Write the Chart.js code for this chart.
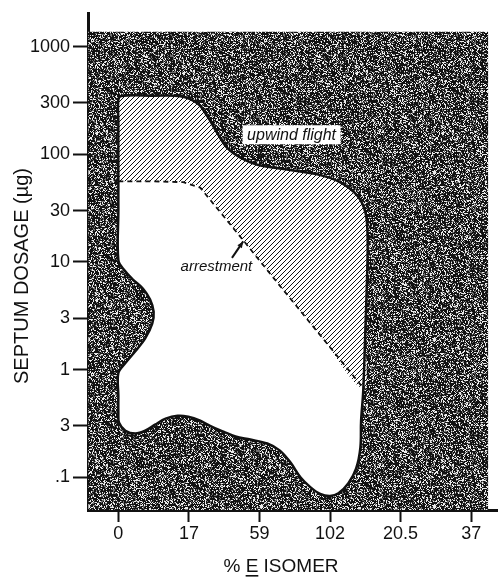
<!DOCTYPE html>
<html>
<head>
<meta charset="utf-8">
<script src="https://cdn.jsdelivr.net/npm/chart.js@4.4.0/dist/chart.umd.min.js"></script>
<style>
  body { margin: 0; background: #fff; }
</style>
</head>
<body>
<canvas id="chart" width="498" height="578"></canvas>
<script>
// x axis: the isomer ratios sit at even steps (index 0..5)
var xTickLabels = ['0', '17', '59', '102', '20.5', '37'];
var yTickValues = [1000, 300, 100, 30, 10, 3, 1, 0.3, 0.1];
var yTickLabels = ['1000', '300', '100', '30', '10', '3', '1', '3', '.1'];

// outer edge of the responding area (white + hatched), going round from the left edge
var regionX = [0, 0, 0, 0.04, 0.5, 0.88, 1.12, 1.26, 1.40, 1.54, 1.73, 1.97, 2.34, 2.82, 3.14, 3.39, 3.50, 3.53, 3.53, 3.50,
  3.47, 3.44, 3.43, 3.37, 3.26, 3.12, 3.00, 2.86, 2.72, 2.58, 2.44, 2.29, 2.11, 1.87, 1.66, 1.49, 1.30, 1.16, 0.99, 0.84,
  0.67, 0.52, 0.38, 0.24, 0.10, 0.01, 0, 0, 0, 0.1, 0.24, 0.38, 0.48, 0.50, 0.45, 0.35, 0.21, 0.08, 0, 0, 0];
var regionY = [100, 200, 320, 348, 350, 346, 298, 226, 158, 115, 93, 80, 73, 65, 55, 41, 29, 19, 10, 2.26,
  0.63, 0.335, 0.189, 0.121, 0.088, 0.071, 0.067, 0.07, 0.081, 0.1, 0.137, 0.177, 0.206, 0.224, 0.239, 0.265, 0.30, 0.335, 0.365, 0.373,
  0.35, 0.308, 0.271, 0.255, 0.271, 0.321, 0.40, 0.57, 0.93, 1.15, 1.48, 1.95, 2.68, 3.46, 4.47, 5.64, 6.82, 8.44, 10.4, 30, 100];

// upwind flight (hatched) part
var flightX = [0, 0, 0, 0.04, 0.5, 0.88, 1.12, 1.26, 1.40, 1.54, 1.73, 1.97, 2.34, 2.82, 3.14, 3.39, 3.50, 3.53, 3.53, 3.50,
  3.47, 2.86, 2.29, 1.73, 1.16, 0.92, 0.5, 0];
var flightY = [56, 150, 320, 348, 350, 346, 298, 226, 158, 115, 93, 80, 73, 65, 55, 41, 29, 19, 10, 2.26,
  0.675, 2.09, 6.0, 17.1, 49, 55, 56, 56];

// arrestment threshold (dashed)
var arrestX = [0, 0.5, 0.92, 1.16, 1.73, 2.29, 2.86, 3.47];
var arrestY = [56, 56, 55, 49, 17.1, 6.0, 2.09, 0.675];

// stippled field (no response)
var fieldX = [-0.425, -0.425, 5.24, 5.24];
var fieldY = [0.0497, 1375, 1375, 0.0497];

function pts(xs, ys) {
  return xs.map(function (x, i) { return { x: x, y: ys[i] }; });
}

// stipple texture
function makeStipple() {
  var c = document.createElement('canvas');
  c.width = 173; c.height = 167;
  var g = c.getContext('2d');
  var img = g.createImageData(173, 167);
  var seed = 987;
  for (var i = 0; i < 173 * 167; i++) {
    seed = (seed * 1103515245 + 12345) & 0x7fffffff;
    var r = seed / 0x7fffffff;
    var v = r < 0.6 ? 18 : (r < 0.78 ? 110 : 235);
    img.data[i * 4] = v; img.data[i * 4 + 1] = v; img.data[i * 4 + 2] = v; img.data[i * 4 + 3] = 255;
  }
  g.putImageData(img, 0, 0);
  return g.createPattern(c, 'repeat');
}

// diagonal hatching  ////
function makeHatch() {
  var c = document.createElement('canvas');
  c.width = 5; c.height = 5;
  var g = c.getContext('2d');
  g.fillStyle = '#fff';
  g.fillRect(0, 0, 5, 5);
  g.fillStyle = '#111';
  for (var i = 0; i < 5; i++) {
    for (var j = 0; j < 5; j++) {
      if ((i + j) % 5 === 0) g.fillRect(i, j, 1, 1);
    }
  }
  return g.createPattern(c, 'repeat');
}

var FONT = '"Liberation Sans", Arial, sans-serif';

var annotate = {
  id: 'annotate',
  afterDraw: function (chart) {
    var ctx = chart.ctx;
    var xs = chart.scales.x, ys = chart.scales.y;
    function px(v) { return xs.getPixelForValue(v); }
    function py(v) { return ys.getPixelForValue(v); }
    function arrow(x1, y1, x2, y2) {
      ctx.beginPath();
      ctx.moveTo(x1, y1);
      ctx.lineTo(x2, y2);
      ctx.lineWidth = 2;
      ctx.strokeStyle = '#111';
      ctx.stroke();
      var a = Math.atan2(y2 - y1, x2 - x1);
      ctx.beginPath();
      ctx.moveTo(x2, y2);
      ctx.lineTo(x2 - 7 * Math.cos(a - 0.4), y2 - 7 * Math.sin(a - 0.4));
      ctx.lineTo(x2 - 7 * Math.cos(a + 0.4), y2 - 7 * Math.sin(a + 0.4));
      ctx.closePath();
      ctx.fillStyle = '#111';
      ctx.fill();
    }
    ctx.save();
    ctx.font = 'italic 16px ' + FONT;
    ctx.textAlign = 'center';
    ctx.textBaseline = 'middle';

    // upwind flight label on a white box
    var cx = px(2.455), cy = py(150);
    ctx.fillStyle = '#fff';
    ctx.fillRect(cx - 49, cy - 10, 98, 19);
    ctx.fillStyle = '#111';
    ctx.fillText('upwind flight', cx, cy);
    arrow(px(2.05), py(115), px(1.965), py(86));

    // arrestment label
    ctx.font = 'italic 15px ' + FONT;
    ctx.fillStyle = '#111';
    ctx.fillText('arrestment', px(1.39), py(9.0));
    arrow(px(1.61), py(10.9), px(1.77), py(15.5));

    // axis titles
    ctx.font = '20px ' + FONT;
    ctx.save();
    ctx.translate(22, 276);
    ctx.rotate(-Math.PI / 2);
    ctx.fillText('SEPTUM DOSAGE (\u00b5g)', 0, 0);
    ctx.restore();

    ctx.font = '19px ' + FONT;
    var a = '% ', b = 'E', c = ' ISOMER';
    var wa = ctx.measureText(a).width, wb = ctx.measureText(b).width, wc = ctx.measureText(c).width;
    var x0 = 281 - (wa + wb + wc) / 2, base = 572;
    ctx.textAlign = 'left';
    ctx.textBaseline = 'alphabetic';
    ctx.fillText(a, x0, base);
    ctx.fillText(b, x0 + wa, base);
    ctx.fillText(c, x0 + wa + wb, base);
    ctx.fillRect(x0 + wa, base + 3, wb, 1.6);
    ctx.restore();
  }
};

var clear = 'rgba(0,0,0,0)';

new Chart(document.getElementById('chart').getContext('2d'), {
  type: 'scatter',
  data: {
    datasets: [
      { data: pts(arrestX, arrestY), showLine: true, fill: false, borderColor: '#111', borderWidth: 1.8,
        borderDash: [5, 4], tension: 0, pointRadius: 0 },
      { data: pts(regionX, regionY), showLine: true, fill: false, borderColor: '#111', borderWidth: 2.5,
        tension: 0.35, pointRadius: 0 },
      { data: pts(flightX, flightY), showLine: true, fill: 'shape', backgroundColor: makeHatch(),
        borderColor: clear, borderWidth: 0.1, tension: 0.35, pointRadius: 0 },
      { data: pts(regionX, regionY), showLine: true, fill: 'shape', backgroundColor: '#fff',
        borderColor: clear, borderWidth: 0.1, tension: 0.35, pointRadius: 0 },
      { data: pts(fieldX, fieldY), showLine: true, fill: 'shape', backgroundColor: makeStipple(),
        borderColor: clear, borderWidth: 0.1, tension: 0, pointRadius: 0 }
    ]
  },
  options: {
    responsive: false,
    devicePixelRatio: 1,
    animation: false,
    layout: { padding: { top: 10, right: 0, left: 0, bottom: 0 } },
    plugins: { legend: { display: false }, tooltip: { enabled: false } },
    scales: {
      x: {
        type: 'linear',
        min: -0.43,
        max: 5.38,
        bounds: 'data',
        afterFit: function (s) { s.height = 68; },
        afterBuildTicks: function (s) { s.ticks = xTickLabels.map(function (l, i) { return { value: i }; }); },
        grid: { drawOnChartArea: false, drawTicks: true, tickLength: 12, tickWidth: 2, tickColor: '#111' },
        border: { display: true, width: 3, color: '#111' },
        ticks: {
          autoSkip: false, maxRotation: 0, padding: 1, color: '#111',
          font: { family: FONT, size: 18 },
          callback: function (v) { return xTickLabels[v]; }
        }
      },
      y: {
        type: 'logarithmic',
        min: 0.0497,
        max: 2014,
        bounds: 'data',
        afterFit: function (s) { s.width = 88; },
        afterBuildTicks: function (s) { s.ticks = yTickValues.map(function (v) { return { value: v }; }); },
        grid: { drawOnChartArea: false, drawTicks: true, tickLength: 15, tickWidth: 2, tickColor: '#111' },
        border: { display: true, width: 3, color: '#111' },
        ticks: {
          padding: 3, color: '#111',
          font: { family: FONT, size: 18 },
          callback: function (v) {
            var i = yTickValues.indexOf(v);
            return i >= 0 ? yTickLabels[i] : '';
          }
        }
      }
    }
  },
  plugins: [annotate]
});
</script>
</body>
</html>
